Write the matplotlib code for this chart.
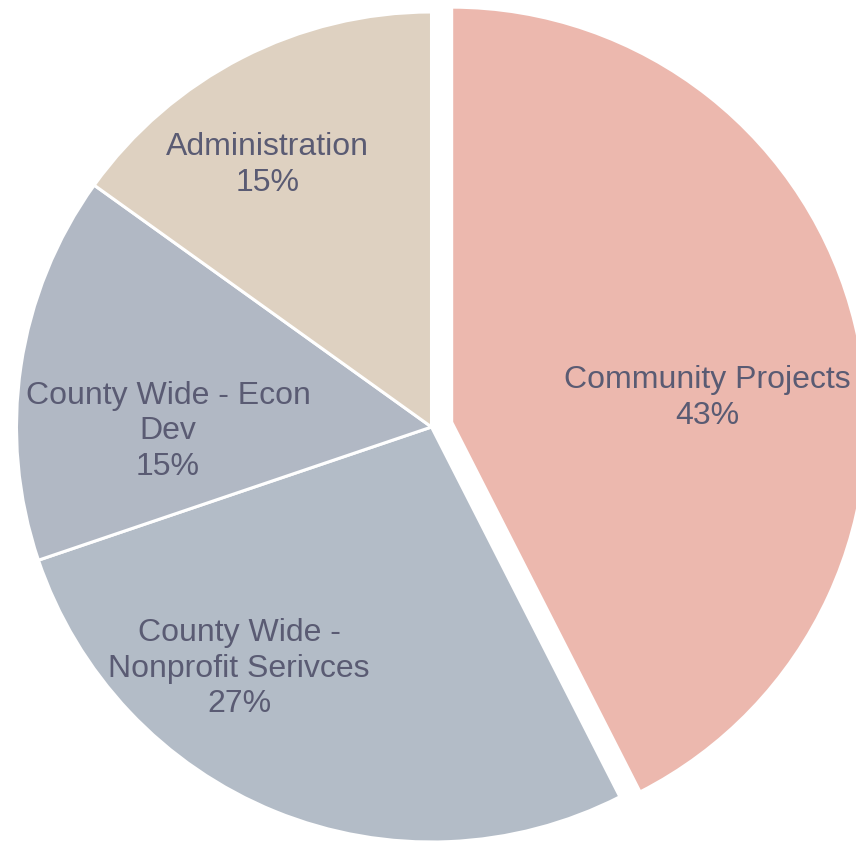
import numpy as np
import matplotlib
matplotlib.use("Agg")
import matplotlib.pyplot as plt

# data (shares, labels as printed)
labels = ["Community Projects", "County Wide -\nNonprofit Serivces",
          "County Wide - Econ\nDev", "Administration"]
shares = [42.5, 27.3, 15.1, 15.1]
pct_text = ["43%", "27%", "15%", "15%"]
colors = ["#ECB8AE", "#B3BCC7", "#B1B8C4", "#DED1C1"]
explode = [0.05, 0, 0, 0]

# label placement (radius, angle in deg clockwise from top), picked by eye
label_r = [0.618, 0.743, 0.635, 0.746]
label_ang = [84.4, 218.6, 269.3, 328.1]

plt.rcParams['font.family'] = ['Liberation Sans', 'DejaVu Sans']

W, H = 856, 845
fig = plt.figure(figsize=(W / 100, H / 100), dpi=100)
ax = fig.add_axes([0, 0, 1, 1])

wedges, texts = ax.pie(shares, colors=colors, explode=explode,
                       startangle=90, counterclock=False, radius=1,
                       wedgeprops={'edgecolor': 'white', 'linewidth': 2.2})

# put the labels where excel put them
for i, w in enumerate(wedges):
    ang = np.deg2rad(label_ang[i])
    cx, cy = w.center
    x = cx + label_r[i] * np.sin(ang)
    y = cy + label_r[i] * np.cos(ang)
    ax.text(x, y, f"{labels[i]}\n{pct_text[i]}", ha='center', va='center',
            fontsize=23, color='#5A5B73', linespacing=1.24)

# pie centre at (431.5, 428) px, radius 415 px
r_px = 415
cx_px, cy_px = 431.5, 428
ax.set_xlim(-cx_px / r_px, (W - cx_px) / r_px)
ax.set_ylim(-(H - cy_px) / r_px, cy_px / r_px)
ax.set_aspect('auto')
ax.axis('off')

fig.savefig("out.png", dpi=100, facecolor='white')
